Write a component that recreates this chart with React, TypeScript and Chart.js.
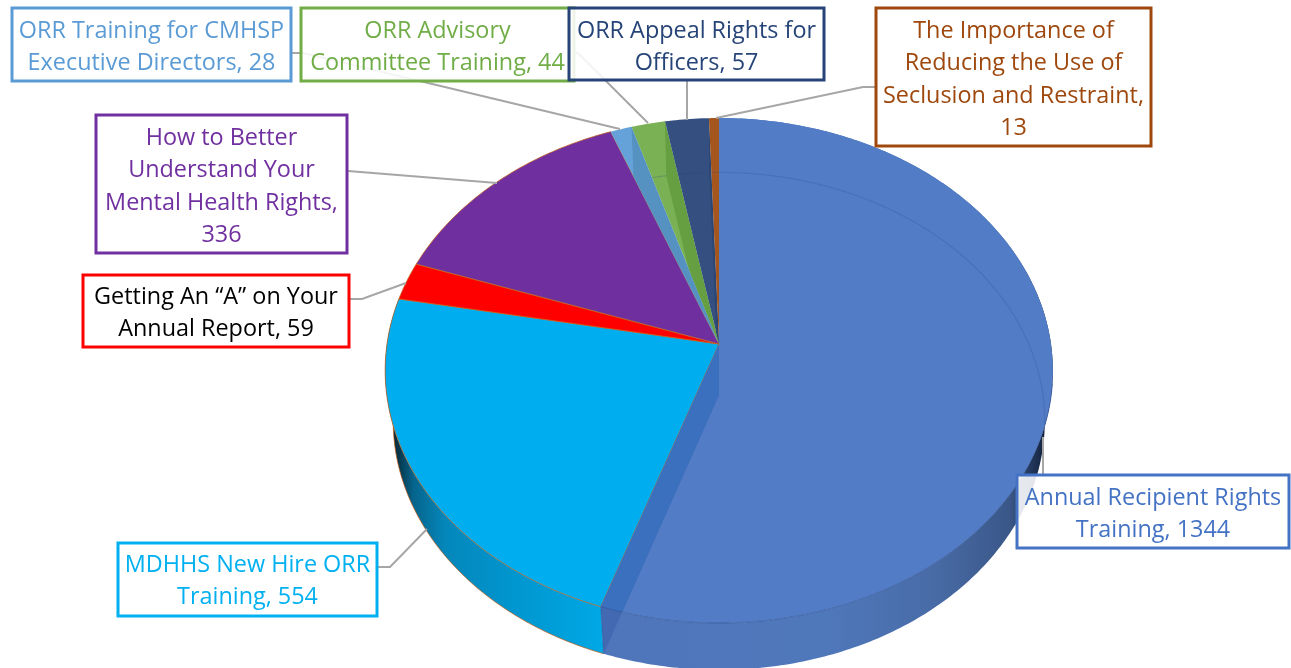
import React, { useEffect, useRef } from "react";
import { Chart, registerables } from "chart.js";

Chart.register(...registerables);

// ---- data ----
const categories = [
  "Annual Recipient Rights Training",
  "MDHHS New Hire ORR Training",
  "Getting An “A” on Your Annual Report",
  "How to Better Understand Your Mental Health Rights",
  "ORR Training for CMHSP Executive Directors",
  "ORR Advisory Committee Training",
  "ORR Appeal Rights for Officers",
  "The Importance of Reducing the Use of Seclusion and Restraint",
];
const values = [1344, 554, 59, 336, 28, 44, 57, 13];
const labelLines = [
  ["Annual Recipient Rights", "Training, "],
  ["MDHHS New Hire ORR", "Training, "],
  ["Getting An “A” on Your", "Annual Report, "],
  ["How to Better", "Understand Your", "Mental Health Rights,", ""],
  ["ORR Training for CMHSP", "Executive Directors, "],
  ["ORR Advisory", "Committee Training, "],
  ["ORR Appeal Rights for", "Officers, "],
  ["The Importance of", "Reducing the Use of", "Seclusion and Restraint,", ""],
];

// ---- styles ----
const faceColors = ["#527DC6", "#00AEEF", "#FF0000", "#6F2F9F", "#65A2D9", "#7AB154", "#355080", "#A5561F"];
const bandColors = ["#3B70BE", null, null, null, "#5592C2", "#659F42", "#2C4674", "#8E4A18"];
const textColors = ["#4472C4", "#00B0F0", "#000000", "#7030A0", "#5B9BD5", "#70AD47", "#264478", "#9E480E"];
const borderColors = ["#4472C4", "#00B0F0", "#FF0000", "#7030A0", "#5B9BD5", "#70AD47", "#264478", "#9E480E"];

// label boxes: left, top, right, bottom, first baseline
const boxes = [
  [1017, 475, 1289, 548, 505],
  [118, 543, 377, 616, 572],
  [83, 275, 349, 347, 304],
  [96, 115, 347, 253, 145],
  [12, 8, 291, 81, 38],
  [301, 8, 574, 81, 38],
  [569, 8, 824, 80, 38],
  [876, 8, 1151, 146, 38],
];
// leader polylines per slice
const leaders = [
  [[1043, 437], [1043, 475]],
  [[378, 567], [390, 567], [427, 529]],
  [[350, 299], [362, 299], [406, 283]],
  [[348, 171], [497, 183]],
  [[292, 53], [303, 53], [620, 129]],
  [[570, 53], [578, 53], [648, 123]],
  [[687, 80], [687, 120]],
  [[875, 87], [863, 87], [716, 118]],
];

const topPlane = { cx: 719, cy: 344, A: 332, B: 249.7, k: 0.105 };
const botPlane = { cx: 719, cy: 395, A: 324, B: 246, k: 0.105 };
type Plane = typeof topPlane;

function project(p: Plane, a: number, r = 1): [number, number] {
  const u = Math.cos(a) * r;
  const v = Math.sin(a) * r;
  const w = 1 - p.k * v;
  return [p.cx + (p.A * u) / w, p.cy + (p.B * v) / w];
}
function arcTo(ctx: CanvasRenderingContext2D, p: Plane, a0: number, a1: number) {
  const n = Math.max(4, Math.ceil(Math.abs(a1 - a0) * 80));
  for (let i = 0; i <= n; i++) {
    const [x, y] = project(p, a0 + ((a1 - a0) * i) / n);
    ctx.lineTo(x, y);
  }
}
function sector(ctx: CanvasRenderingContext2D, p: Plane, a0: number, a1: number) {
  ctx.beginPath();
  ctx.moveTo(p.cx, p.cy);
  arcTo(ctx, p, a0, a1);
  ctx.closePath();
}
function wall(ctx: CanvasRenderingContext2D, a0: number, a1: number) {
  ctx.beginPath();
  const [x, y] = project(topPlane, a0);
  ctx.moveTo(x, y);
  arcTo(ctx, topPlane, a0, a1);
  arcTo(ctx, botPlane, a1, a0);
  ctx.closePath();
}
function cut(ctx: CanvasRenderingContext2D, a: number) {
  const t = project(topPlane, a);
  const b = project(botPlane, a);
  ctx.beginPath();
  ctx.moveTo(topPlane.cx, topPlane.cy);
  ctx.lineTo(t[0], t[1]);
  ctx.lineTo(b[0], b[1]);
  ctx.lineTo(botPlane.cx, botPlane.cy);
  ctx.closePath();
}

const pie3d = {
  id: "pie3d",
  beforeDatasetDraw(chart: any) {
    const ctx: CanvasRenderingContext2D = chart.ctx;
    const arcs = chart.getDatasetMeta(0).data;
    const ang = arcs.map((e: any) => [e.startAngle, e.endAngle]);
    ctx.save();

    // outer walls
    const blueGrad = ctx.createLinearGradient(605, 0, 1045, 0);
    blueGrad.addColorStop(0, "#4F75BA");
    blueGrad.addColorStop(0.5, "#4F78BB");
    blueGrad.addColorStop(0.75, "#486BA6");
    blueGrad.addColorStop(0.92, "#3A5788");
    blueGrad.addColorStop(1, "#14233F");
    wall(ctx, ang[0][0], ang[0][1]);
    ctx.fillStyle = blueGrad;
    ctx.fill();

    const cyanGrad = ctx.createLinearGradient(392, 0, 605, 0);
    cyanGrad.addColorStop(0, "#06222F");
    cyanGrad.addColorStop(0.1, "#05648C");
    cyanGrad.addColorStop(0.25, "#0487BB");
    cyanGrad.addColorStop(0.6, "#0097D0");
    cyanGrad.addColorStop(1, "#00A8E6");
    wall(ctx, ang[1][0], ang[1][1]);
    ctx.fillStyle = cyanGrad;
    ctx.fill();
    ctx.strokeStyle = "rgba(197,90,17,0.7)";
    ctx.lineWidth = 1;
    ctx.beginPath();
    const cs = project(botPlane, ang[1][0]);
    ctx.moveTo(cs[0], cs[1]);
    arcTo(ctx, botPlane, ang[1][0], ang[1][1]);
    ctx.stroke();

    // top faces
    arcs.forEach((_: any, i: number) => {
      sector(ctx, topPlane, ang[i][0], ang[i][1]);
      ctx.fillStyle = faceColors[i];
      ctx.fill();
      if (!bandColors[i]) {
        ctx.strokeStyle = "rgba(197,100,30,0.75)";
        ctx.lineWidth = 1;
        ctx.stroke();
      }
    });

    // visible inner cut of the translucent slices
    arcs.forEach((_: any, i: number) => {
      if (!bandColors[i]) return;
      ctx.save();
      if (i === 0) {
        cut(ctx, ang[i][1]);
        ctx.fillStyle = "#4369B3";
        ctx.fill();
      }
      sector(ctx, topPlane, ang[i][0], ang[i][1]);
      ctx.clip();
      cut(ctx, ang[i][1]);
      ctx.fillStyle = bandColors[i] as string;
      ctx.fill();
      // the far rim of the lower ellipse, seen through the slice
      ctx.beginPath();
      const s = project(botPlane, ang[i][0]);
      ctx.moveTo(s[0], s[1]);
      arcTo(ctx, botPlane, ang[i][0], ang[i][1]);
      ctx.strokeStyle = "rgba(35,65,125,0.2)";
      ctx.lineWidth = 1.2;
      ctx.stroke();
      ctx.restore();
    });

    // dark rim line along the front of the large slice only
    ctx.beginPath();
    const rimStart = ang[0][0] + Math.PI * 0.55;
    const r0 = project(topPlane, rimStart);
    ctx.moveTo(r0[0], r0[1]);
    arcTo(ctx, topPlane, rimStart, ang[0][1]);
    ctx.strokeStyle = "rgba(50,85,150,0.65)";
    ctx.lineWidth = 1;
    ctx.stroke();

    // lower edge of the cut
    const bt = project(botPlane, ang[0][1]);
    ctx.beginPath();
    const tp = project(topPlane, ang[0][1]);
    ctx.moveTo(tp[0], tp[1]);
    ctx.lineTo(bt[0], bt[1]);
    ctx.strokeStyle = "rgba(50,85,150,0.5)";
    ctx.stroke();

    ctx.restore();
    return false;
  },
  afterDraw(chart: any) {
    const ctx: CanvasRenderingContext2D = chart.ctx;
    ctx.save();
    ctx.strokeStyle = "#A6A6A6";
    ctx.lineWidth = 2;
    ctx.lineJoin = "miter";
    leaders.forEach((pts) => {
      ctx.beginPath();
      pts.forEach(([x, y], i) => (i ? ctx.lineTo(x, y) : ctx.moveTo(x, y)));
      ctx.stroke();
    });
    const order = [0, 1, 2, 3, 4, 5, 6, 7];
    order.forEach((i) => {
      const [l, t, r, b, base] = boxes[i];
      ctx.fillStyle = "rgba(255,255,255,0.88)";
      ctx.fillRect(l, t, r - l, b - t);
      ctx.strokeStyle = borderColors[i];
      ctx.lineWidth = 3;
      ctx.strokeRect(l, t, r - l, b - t);
      ctx.fillStyle = textColors[i];
      ctx.font = '23.4px "Open Sans", sans-serif';
      ctx.textAlign = "center";
      ctx.textBaseline = "alphabetic";
      const lines = labelLines[i];
      lines.forEach((ln, j) => {
        const s = j === lines.length - 1 ? ln + values[i] : ln;
        ctx.fillText(s, (l + r) / 2, base + j * 32.4);
      });
    });
    ctx.restore();
  },
};

export default function App() {
  const ref = useRef<HTMLCanvasElement>(null);
  useEffect(() => {
    document.body.style.margin = "0";
    document.body.style.overflow = "hidden";
    document.body.style.background = "#fff";
    const chart = new Chart(ref.current as HTMLCanvasElement, {
      type: "pie",
      data: {
        labels: categories,
        datasets: [{ data: values, backgroundColor: faceColors, borderWidth: 0 }],
      },
      options: {
        responsive: false,
        animation: false,
        plugins: { legend: { display: false }, tooltip: { enabled: false } },
      },
      plugins: [pie3d],
    } as any);
    return () => chart.destroy();
  }, []);
  return <canvas ref={ref} width={1291} height={668} style={{ display: "block" }} />;
}
